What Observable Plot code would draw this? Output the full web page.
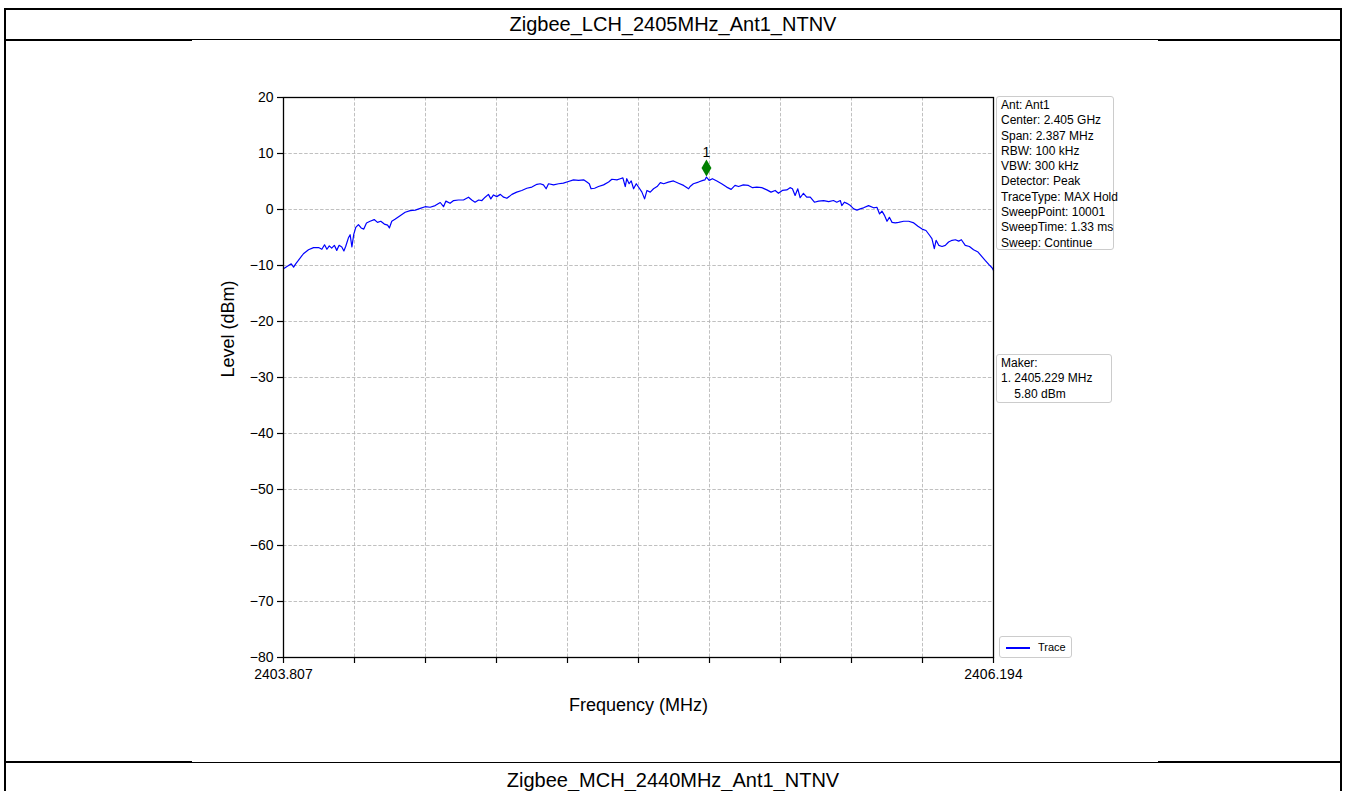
<!DOCTYPE html>
<html>
<head>
<meta charset="utf-8">
<script src="https://cdn.jsdelivr.net/npm/d3@7"></script>
<script src="https://cdn.jsdelivr.net/npm/@observablehq/plot@0.6"></script>
<style>
  html, body { margin: 0; padding: 0; background: #ffffff; overflow: hidden; }
  body { width: 1346px; height: 791px; position: relative; font-family: "Liberation Sans", Arial, sans-serif; }
  .hl { position: absolute; background: #000; }
  .title { position: absolute; left: 0; width: 1346px; text-align: center; font-size: 20px; color: #000; }
  #chart { position: absolute; left: 192px; top: 40px; width: 966px; height: 722px; background: #ffffff; }
  #chart svg { position: absolute; left: 0; top: 1px; }
  .box { position: absolute; background: #fff; border: 1px solid #cccccc; border-radius: 3px;
         font-size: 12px; line-height: 15.3px; color: #000; white-space: pre; box-sizing: border-box; }
</style>
</head>
<body>
<div class="hl" style="left:4px;top:8px;width:1338px;height:2px"></div>
<div class="hl" style="left:4px;top:8px;width:2px;height:783px"></div>
<div class="hl" style="left:1340px;top:8px;width:2px;height:783px"></div>
<div class="hl" style="left:4px;top:39px;width:1338px;height:2px"></div>
<div class="hl" style="left:4px;top:761px;width:1338px;height:2px"></div>
<div class="title" id="t1" style="top:13px"></div>
<div class="title" id="t2" style="top:769px"></div>
<div id="chart"></div>
<script>
const titleTop = "Zigbee_LCH_2405MHz_Ant1_NTNV";
const titleNext = "Zigbee_MCH_2440MHz_Ant1_NTNV";

const freq = [
 2403.807,2403.824,2403.833,2403.841,2403.848,2403.857,2403.874,2403.891,2403.908,2403.925,
 2403.936,2403.945,2403.953,2403.961,2403.969,2403.978,2403.986,2403.994,2404.003,2404.010,
 2404.016,2404.025,2404.031,2404.037,2404.043,2404.050,2404.059,2404.068,2404.077,2404.086,
 2404.098,2404.112,2404.123,2404.134,2404.146,2404.157,2404.163,2404.171,2404.183,2404.199,
 2404.216,2404.233,2404.250,2404.267,2404.283,2404.300,2404.317,2404.334,2404.345,2404.353,
 2404.367,2404.379,2404.395,2404.412,2404.429,2404.440,2404.451,2404.463,2404.474,2404.485,
 2404.496,2404.504,2404.513,2404.524,2404.536,2404.547,2404.558,2404.575,2404.591,2404.608,
 2404.625,2404.642,2404.659,2404.670,2404.681,2404.690,2404.698,2404.715,2404.732,2404.748,
 2404.765,2404.782,2404.799,2404.816,2404.827,2404.835,2404.841,2404.853,2404.866,2404.883,
 2404.900,2404.911,2404.928,2404.939,2404.948,2404.956,2404.961,2404.969,2404.976,2404.984,
 2404.993,2405.004,2405.012,2405.021,2405.029,2405.040,2405.051,2405.063,2405.074,2405.085,
 2405.101,2405.118,2405.135,2405.152,2405.169,2405.174,2405.185,2405.202,2405.217,2405.224,
 2405.229,2405.238,2405.249,2405.264,2405.280,2405.297,2405.312,2405.325,2405.337,2405.353,
 2405.370,2405.384,2405.398,2405.415,2405.432,2405.446,2405.460,2405.471,2405.484,2405.499,
 2405.510,2405.518,2405.527,2405.536,2405.544,2405.555,2405.566,2405.578,2405.592,2405.606,
 2405.623,2405.640,2405.656,2405.667,2405.679,2405.684,2405.693,2405.701,2405.713,2405.724,
 2405.735,2405.746,2405.757,2405.774,2405.791,2405.802,2405.811,2405.819,2405.828,2405.836,
 2405.844,2405.853,2405.864,2405.875,2405.892,2405.909,2405.926,2405.940,2405.954,2405.967,
 2405.979,2405.987,2405.995,2406.001,2406.010,2406.021,2406.032,2406.043,2406.055,2406.066,
 2406.077,2406.086,2406.099,2406.113,2406.127,2406.142,2406.155,2406.166,2406.178,2406.189,
 2406.194
];
const level = [
 -10.6,-10.0,-9.7,-10.3,-9.7,-9.1,-7.9,-7.2,-6.8,-6.8,
 -7.1,-6.3,-7.1,-6.5,-6.9,-6.4,-7.3,-6.4,-6.7,-7.4,
 -6.6,-5.1,-4.5,-6.7,-4.5,-3.2,-2.7,-3.3,-3.5,-2.4,
 -2.1,-1.8,-2.3,-2.1,-2.6,-2.8,-3.3,-2.1,-1.7,-1.1,
 -0.5,-0.2,-0.1,0.2,0.5,0.4,0.7,1.25,0.5,1.5,
 1.1,1.6,1.7,1.7,2.2,1.7,1.3,1.7,1.6,2.2,
 2.7,1.9,2.6,2.3,2.7,2.2,2.0,2.7,3.1,3.4,
 3.8,4.0,4.5,4.6,4.4,3.7,4.6,4.4,4.6,4.7,
 5.0,5.3,5.2,5.3,4.9,4.6,3.7,3.8,4.1,4.4,
 4.9,5.4,5.3,5.5,5.65,4.1,5.5,4.6,5.1,3.7,
 4.6,3.75,3.1,1.9,3.4,3.1,3.7,4.1,4.8,4.6,
 4.9,5.1,4.7,4.3,3.7,4.1,4.6,4.9,5.2,5.3,
 5.8,5.2,5.5,5.1,4.6,4.0,3.6,4.3,4.1,4.4,
 4.3,3.9,4.0,3.9,3.5,3.1,3.4,2.9,3.4,3.5,
 3.9,3.7,2.5,3.7,2.1,2.9,2.2,2.2,1.3,1.5,
 1.6,1.4,1.6,1.3,1.6,0.7,1.3,1.1,0.7,0.1,
 -0.1,0.1,0.3,0.7,0.3,0.4,-0.8,-0.3,-1.1,-2.1,
 -1.4,-2.3,-2.4,-2.3,-2.1,-2.1,-2.4,-3.0,-3.5,-3.75,
 -4.6,-5.2,-7.0,-5.5,-6.4,-6.6,-6.4,-5.8,-5.5,-5.4,
 -5.65,-5.4,-6.4,-6.6,-7.2,-7.6,-8.4,-9.1,-9.8,-10.4,
 -10.9
];

const xDomain = [2403.807, 2406.194];
const yDomain = [-80, 20];
const yTicks = [-80, -70, -60, -50, -40, -30, -20, -10, 0, 10, 20];
const xTicks = [2403.807, 2404.0457, 2404.2844, 2404.5231, 2404.7618, 2405.0005,
                2405.2392, 2405.4779, 2405.7166, 2405.9553, 2406.194];
const xTickLabels = ["2403.807", "", "", "", "", "", "", "", "", "", "2406.194"];

const markerFreq = [2405.229];
const markerLevel = [5.80];
const markerName = ["1"];

const xLabel = "Frequency (MHz)";
const yLabel = "Level (dBm)";
const seriesName = "Trace";
const infoLines = ["Ant: Ant1", "Center: 2.405 GHz", "Span: 2.387 MHz", "RBW: 100 kHz", "VBW: 300 kHz",
  "Detector: Peak", "TraceType: MAX Hold", "SweepPoint: 10001", "SweepTime: 1.33 ms", "Sweep: Continue"];
const makerLines = ["Maker:", "1. 2405.229 MHz", "    5.80 dBm"];

document.getElementById("t1").textContent = titleTop;
document.getElementById("t2").textContent = titleNext;

const trace = freq.map((f, i) => ({f, v: level[i]}));
const markers = markerFreq.map((f, i) => ({f, v: markerLevel[i], name: markerName[i]}));
const gridStyle = {stroke: "#b0b0b0", strokeOpacity: 1, strokeWidth: 0.8, strokeDasharray: "3.5,1.8"};

const plot = Plot.plot({
  width: 966,
  height: 720,
  marginLeft: 91,
  marginRight: 165,
  marginTop: 56,
  marginBottom: 104,
  x: {domain: xDomain},
  y: {domain: yDomain},
  style: {fontFamily: "'Liberation Sans', Arial, sans-serif", background: "white", color: "black", overflow: "visible"},
  marks: [
    Plot.gridX(xTicks.slice(1, -1), gridStyle),
    Plot.gridY(yTicks.slice(1, -1), gridStyle),
    Plot.line(trace, {x: "f", y: "v", stroke: "#0000ff", strokeWidth: 1.2}),
    Plot.dot(markers, {x: "f", y: "v", symbol: "diamond", r: 5.2, fill: "#008000", stroke: "none", dy: -9}),
    Plot.text(markers, {x: "f", y: "v", text: "name", dy: -25, fontSize: 14, fill: "black"}),
    Plot.frame({stroke: "black", strokeWidth: 1.3}),
    Plot.axisY(yTicks, {tickSize: 6, tickPadding: 4, fontSize: 14, label: null, strokeWidth: 1.2}),
    Plot.axisX(xTicks, {tickSize: 6, tickPadding: 6, fontSize: 14, label: null, strokeWidth: 1.2,
      tickFormat: d => xTickLabels[xTicks.indexOf(d)]}),
    Plot.text([yLabel], {frameAnchor: "left", text: d => d, rotate: -90, dx: -55, fontSize: 18, fill: "black"}),
    Plot.text([xLabel], {frameAnchor: "bottom", text: d => d, dy: 53, fontSize: 18, fill: "black"})
  ]
});
const chart = document.getElementById("chart");
chart.appendChild(plot);

// info boxes (page coords converted to chart-relative)
function addBox(lines, left, top, width, height) {
  const b = document.createElement("div");
  b.className = "box";
  b.style.left = (left - 192) + "px";
  b.style.top = (top - 40) + "px";
  b.style.width = width + "px";
  b.style.height = height + "px";
  b.style.padding = "1px 0 0 4px";
  b.textContent = lines.join("\n");
  chart.appendChild(b);
}
addBox(infoLines, 996, 96, 118, 154);
addBox(makerLines, 996, 354, 116, 49);

// trace legend
const lg = document.createElement("div");
lg.className = "box";
Object.assign(lg.style, {left: (999 - 192) + "px", top: (636 - 40) + "px", width: "73px", height: "22px", fontSize: "11px", lineHeight: "20px", padding: "0"});
const sw = document.createElement("span");
Object.assign(sw.style, {position: "absolute", left: "6px", top: "10px", width: "24px", height: "1.5px", background: "#0000ff"});
const lt = document.createElement("span");
Object.assign(lt.style, {position: "absolute", left: "38px", top: "0px"});
lt.textContent = seriesName;
lg.appendChild(sw); lg.appendChild(lt);
chart.appendChild(lg);
</script>
</body>
</html>
